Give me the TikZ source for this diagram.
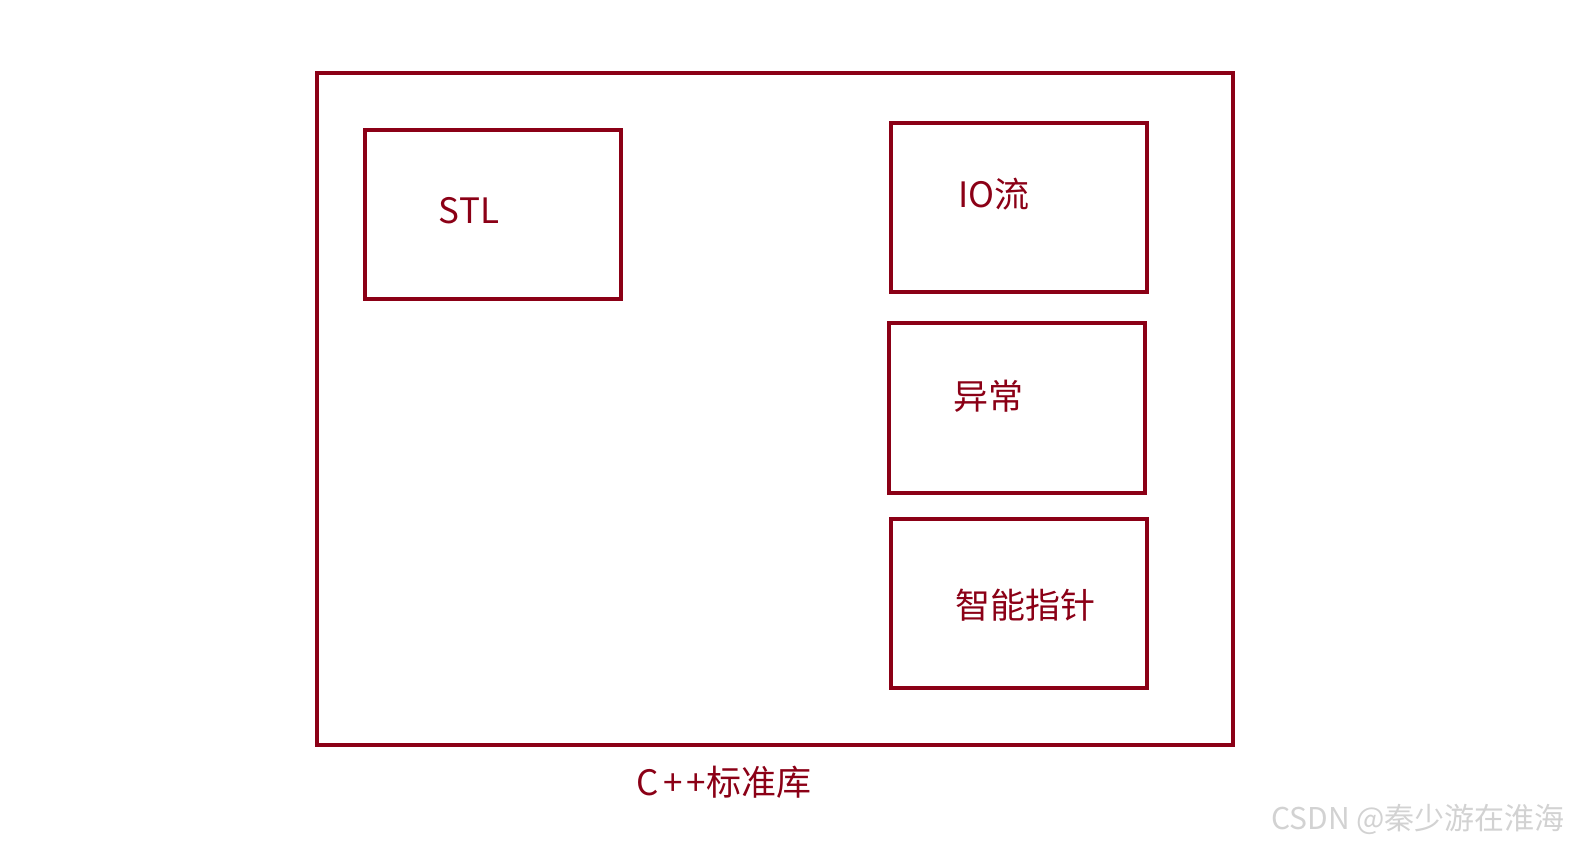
\documentclass[tikz,border=0pt]{standalone}
\usepackage{fontspec}
\setmainfont{Noto Sans CJK SC}
\usepackage{xcolor}
\usepackage{tikz}
\definecolor{libred}{HTML}{8B0016}

\begin{document}
\begin{tikzpicture}[x=1pt,y=-1pt,
  box/.style={draw=libred,line width=3.2pt,inner sep=0pt,minimum width=256pt,minimum height=169pt},
  lbl/.style={text=libred,inner sep=0pt,font=\fontsize{35}{40}\selectfont}]
\useasboundingbox (0,0) rectangle (1571,847);
\node[box,minimum width=916pt,minimum height=672pt](lib) at (775,409){};
\node[box](stl) at (493,214.5){};
\node[box](io) at (1019,207.5){};
\node[box,minimum height=170pt](exc) at (1017,408){};
\node[box](ptr) at (1019,603.5){};
\node[lbl](stltxt) at (469,211){STL};
\node[lbl](iotxt) at (994,194){IO流};
\node[lbl](exctxt) at (988,396){异常};
\node[lbl](ptrtxt) at (1025,605){智能指针};
\node[lbl](libtxt) at (724,782){C\hspace{4pt}+\hspace{4pt}+标准库};
\node[anchor=east,text=gray!35,inner sep=0pt,font=\fontsize{30}{34}\selectfont](mark) at (1565,819){CSDN @秦少游在淮海};
\end{tikzpicture}
\end{document}
